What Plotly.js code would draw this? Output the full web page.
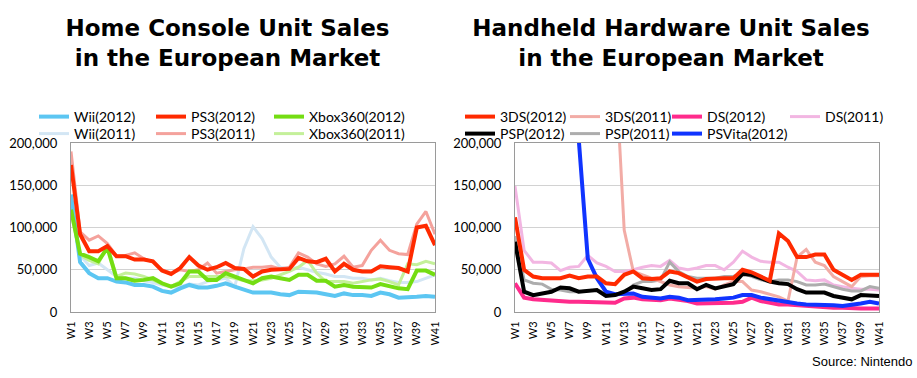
<!DOCTYPE html>
<html><head><meta charset="utf-8">
<script src="https://cdn.plot.ly/plotly-3.0.1.min.js"></script>
<style>
html,body{margin:0;padding:0;background:#fff;}
#wrap{position:relative;width:917px;height:378px;overflow:hidden;background:#fff;}
#left{position:absolute;left:0;top:0;width:458px;height:378px;}
#right{position:absolute;left:400px;top:0;width:517px;height:378px;}
</style></head><body>
<div id="wrap"><div id="left"></div><div id="right"></div></div>
<script>
// ---------- data ----------
const weeks = ["W1","W2","W3","W4","W5","W6","W7","W8","W9","W10","W11","W12","W13","W14","W15","W16","W17","W18","W19","W20","W21","W22","W23","W24","W25","W26","W27","W28","W29","W30","W31","W32","W33","W34","W35","W36","W37","W38","W39","W40","W41"];
const weekTicks = ["W1","W3","W5","W7","W9","W11","W13","W15","W17","W19","W21","W23","W25","W27","W29","W31","W33","W35","W37","W39","W41"];
const yTicks = [0, 50000, 100000, 150000, 200000];

// Home consoles (units)
const wii2012 = [139000,59000,46000,40000,40000,36000,35000,32000,32000,30000,25000,23000,28000,32000,29000,29000,31000,34000,30000,27000,23000,23000,23000,21000,20000,24000,24000,23000,21000,19000,22000,20000,20000,19000,23000,21000,17000,17000,18000,19000,18000];
const wii2011 = [130000,67000,55000,58000,50000,42000,40000,40000,37000,35000,32000,30000,30000,33000,32000,36000,38000,40000,30000,75000,101000,87000,65000,53000,51000,53000,50000,47000,45000,42000,42000,40000,40000,38000,40000,37000,35000,35000,36000,40000,44000];
const ps32012 = [174000,92000,72000,72000,78000,66000,66000,62000,62000,60000,49000,45000,52000,65000,55000,50000,53000,58000,52000,51000,42000,48000,50000,50000,51000,64000,60000,59000,63000,48000,57000,50000,48000,48000,54000,53000,52000,48000,100000,102000,79000];
const ps32011 = [190000,95000,85000,90000,81000,66000,67000,70000,63000,59000,50000,46000,50000,48000,50000,58000,46000,48000,50000,51000,53000,53000,54000,51000,53000,70000,65000,57000,54000,57000,66000,53000,55000,73000,85000,73000,69000,68000,104000,119000,92000];
const xbox2012 = [121000,69000,65000,60000,76000,40000,40000,37000,38000,40000,34000,30000,34000,48000,48000,38000,38000,46000,42000,38000,34000,40000,42000,40000,38000,44000,44000,37000,37000,30000,32000,30000,29000,29000,33000,30000,28000,27000,49000,49000,44000];
const xbox2011 = [118000,67000,61000,57000,79000,42000,46000,45000,42000,38000,33000,30000,36000,42000,42000,42000,42000,42000,40000,37000,37000,38000,40000,44000,48000,53000,61000,46000,36000,36000,36000,34000,36000,38000,39000,36000,32000,57000,56000,60000,57000];

// Handhelds (units)
const n3ds2012 = [112000,50000,42000,40000,40000,40000,43000,40000,42000,42000,34000,33000,44000,48000,40000,39000,40000,48000,46000,41000,36000,39000,40000,40000,40000,50000,47000,42000,37000,93000,84000,65000,65000,68000,68000,50000,44000,38000,44000,44000,44000];
const n3ds2011 = [null,null,null,null,null,null,null,null,null,null,null,300000,97000,48000,44000,40000,36000,32000,30000,29000,28000,30000,27000,32000,36000,36000,26000,24000,21000,18000,13000,65000,74000,59000,55000,42000,36000,30000,42000,43000,43000];
const ds2012 = [34000,17000,15000,14000,13000,12000,12000,12000,12000,12000,11000,11000,16000,17000,15000,14000,14000,16000,15000,13000,10000,10000,10000,10000,11000,12000,17000,13000,11000,9000,9000,8000,7000,7000,6000,5000,5000,4000,4000,4000,4000];
const ds2011 = [149000,73000,59000,59000,58000,49000,53000,54000,67000,58000,54000,48000,48000,50000,53000,55000,54000,61000,52000,50000,52000,55000,55000,50000,59000,72000,65000,60000,59000,59000,53000,48000,38000,37000,38000,32000,30000,28000,27000,27000,26000];
const psp2012 = [83000,24000,20000,22000,24000,29000,28000,24000,25000,26000,19000,20000,24000,30000,28000,26000,27000,37000,34000,34000,27000,32000,28000,30000,33000,45000,44000,40000,36000,34000,33000,27000,23000,23000,23000,19000,17000,15000,20000,20000,19000];
const psp2011 = [90000,38000,34000,33000,27000,26000,24000,24000,25000,26000,22000,20000,22000,32000,36000,36000,38000,59000,48000,42000,40000,40000,40000,42000,42000,46000,42000,38000,36000,38000,38000,36000,32000,32000,33000,30000,27000,25000,25000,30000,28000];
const vita2012 = [null,null,null,null,null,null,null,205000,63000,40000,24000,21000,21000,22000,18000,17000,16000,18000,17000,14000,14000,14000,15000,16000,17000,20000,20000,17000,15000,13000,12000,10000,9000,9000,9000,8000,7000,8000,10000,12000,10000];

// ---------- helpers ----------
function tr(name, y, color, width, legendId, rank, slot) {
  return {type:'scatter', mode:'lines', name:name, x:weeks, y:y,
          line:{color:color, width:width}, legend:legendId, legendrank:rank,
          legendwidth:slot, connectgaps:false, hoverinfo:'skip'};
}
function axes() {
  return {
    xaxis:{type:'category', range:[0,40], tickmode:'array', tickvals:weekTicks, ticktext:weekTicks,
           tickangle:-90, tickfont:{family:'Lato, sans-serif', size:11, color:'#000'},
           showgrid:false, showline:true, linecolor:'#9a9a9a', linewidth:1, mirror:true,
           ticks:'', ticklabelstandoff:4, zeroline:false, fixedrange:true},
    yaxis:{range:[0,200000], tickmode:'array', tickvals:yTicks, tickformat:',d',
           tickfont:{family:'Lato, sans-serif', size:13, color:'#000'},
           showgrid:true, gridcolor:'#d2d2d2', gridwidth:1,
           showline:true, linecolor:'#9a9a9a', linewidth:1, mirror:true,
           ticks:'', ticklabelstandoff:10, zeroline:false, fixedrange:true}
  };
}
const titleFont = {family:'DejaVu Sans, sans-serif', size:23, weight:700, color:'#000'};
const legendFont = {family:'Lato, sans-serif', size:14, color:'#000'};
function rowLegend(xPaper, yPaper) {
  return {orientation:'h', x:xPaper, xanchor:'left', y:yPaper, yanchor:'middle',
          entrywidthmode:'pixels', font:legendFont, bgcolor:'rgba(0,0,0,0)',
          traceorder:'normal', borderwidth:0};
}

// ---------- left chart ----------
const leftTraces = [
  tr('Wii(2011)', wii2011, '#d3e6f4', 3, 'legend2', 1, 72),
  tr('Xbox360(2011)', xbox2011, '#c4f09a', 3, 'legend2', 3, 100),
  tr('PS3(2011)', ps32011, '#f4a29c', 3, 'legend2', 2, 73),
  tr('Wii(2012)', wii2012, '#5cc6f2', 4, 'legend', 1, 72),
  tr('Xbox360(2012)', xbox2012, '#74dd12', 4, 'legend', 3, 100),
  tr('PS3(2012)', ps32012, '#ff2a00', 4, 'legend', 2, 73)
];
const leftLayout = Object.assign({
  width:458, height:378,
  margin:{l:71, r:23, t:143, b:66, pad:0},
  paper_bgcolor:'#ffffff', plot_bgcolor:'#ffffff',
  title:{text:'Home Console Unit Sales<br>in the European Market', font:titleFont,
         xref:'container', x:227.5/458, xanchor:'center', yref:'container', y:1-36/378, yanchor:'top'},
  showlegend:true,
  legend: rowLegend((34-71)/364, (312-117)/169),
  legend2: rowLegend((34-71)/364, (312-134)/169)
}, axes());

// ---------- right chart ----------
const rightTraces = [
  tr('DS(2011)', ds2011, '#f2b6e2', 3, 'legend', 4, 80),
  tr('PSP(2011)', psp2011, '#adadad', 3, 'legend2', 2, 57),
  tr('3DS(2011)', n3ds2011, '#f2aca6', 3, 'legend', 2, 57),
  tr('DS(2012)', ds2012, '#ff2b8c', 4, 'legend', 3, 73),
  tr('PSVita(2012)', vita2012, '#1034ff', 4, 'legend2', 3, 95),
  tr('PSP(2012)', psp2012, '#000000', 4, 'legend2', 1, 60),
  tr('3DS(2012)', n3ds2012, '#ff2a00', 4, 'legend', 1, 60)
];
const rightLayout = Object.assign({
  width:517, height:378,
  margin:{l:115, r:38, t:143, b:66, pad:0},
  paper_bgcolor:'rgba(0,0,0,0)', plot_bgcolor:'#ffffff',
  title:{text:'Handheld Hardware Unit Sales<br>in the European Market', font:titleFont,
         xref:'container', x:271/517, xanchor:'center', yref:'container', y:1-36/378, yanchor:'top'},
  showlegend:true,
  legend: rowLegend((60-115)/364, (312-117)/169),
  legend2: rowLegend((60-115)/364, (312-134)/169),
  annotations:[{text:'Source: Nintendo', xref:'paper', yref:'paper', x:(914-515)/364, xanchor:'right',
                y:(312-361)/169, yanchor:'middle', showarrow:false,
                font:{family:'Liberation Sans, Arial, sans-serif', size:13, color:'#000'}}]
}, axes());

const cfg = {staticPlot:true, displayModeBar:false};
Plotly.newPlot('left', leftTraces, leftLayout, cfg);
Plotly.newPlot('right', rightTraces, rightLayout, cfg);
</script>
</body></html>
